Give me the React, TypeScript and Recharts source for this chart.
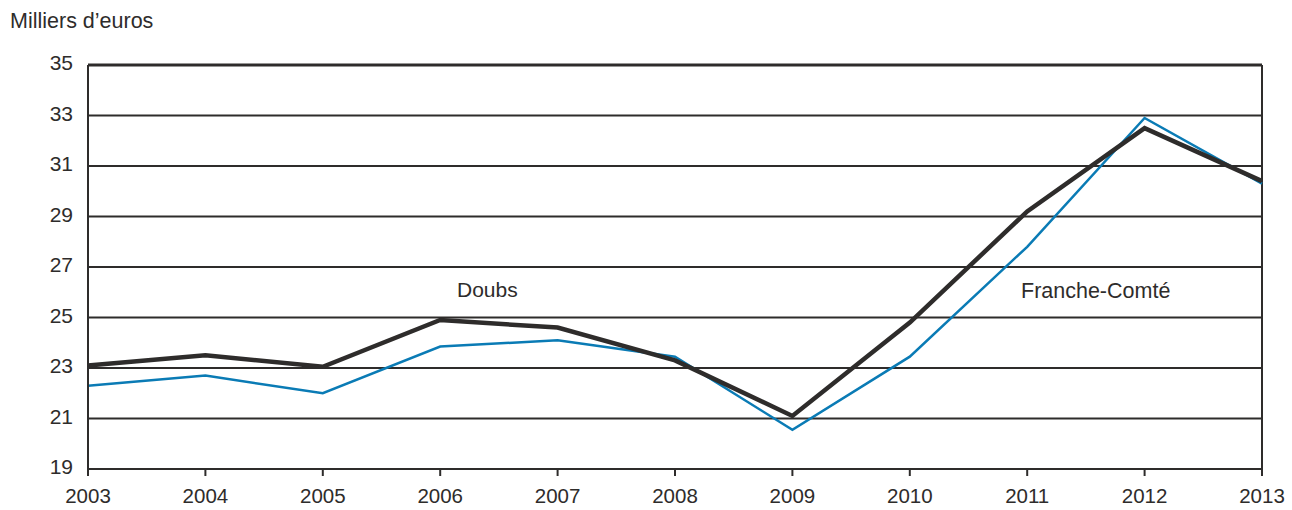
import React from 'react';
import {
  LineChart,
  Line,
  XAxis,
  YAxis,
  CartesianGrid,
  ReferenceLine,
} from 'recharts';

// Revenu disponible, milliers d'euros
const years = ['2003', '2004', '2005', '2006', '2007', '2008', '2009', '2010', '2011', '2012', '2013'];
const doubs = [23.1, 23.5, 23.05, 24.9, 24.6, 23.3, 21.1, 24.8, 29.2, 32.5, 30.4];
const francheComte = [22.3, 22.7, 22.0, 23.85, 24.1, 23.45, 20.55, 23.45, 27.8, 32.9, 30.3];
const yTicks = [19, 21, 23, 25, 27, 29, 31, 33, 35];

const data = years.map((year, i) => ({
  year,
  doubs: doubs[i],
  franche: francheComte[i],
}));

const INK = '#2e2c2b';
const BLUE = '#0a7bb5';
const FONT = 'Liberation Sans, Arial, sans-serif';

const App = () => {
  return (
    <div
      style={{
        position: 'absolute',
        left: 0,
        top: 0,
        width: 1292,
        height: 510,
        background: '#fff',
        fontFamily: FONT,
        lineHeight: 1,
      }}
    >
      <div style={{ position: 'absolute', left: 10, top: 11, fontSize: 21.5, color: INK }}>
        Milliers d’euros
      </div>
      <div style={{ position: 'absolute', left: 457, top: 279, fontSize: 21, color: INK }}>
        Doubs
      </div>
      <div style={{ position: 'absolute', left: 1021, top: 281, fontSize: 21.5, color: INK }}>
        Franche-Comté
      </div>
      <LineChart
        width={1292}
        height={510}
        data={data}
        margin={{ top: 65, right: 30, bottom: 0, left: 0 }}
      >
        <CartesianGrid vertical={false} stroke={INK} strokeWidth={2} />
        <XAxis
          dataKey="year"
          height={41}
          axisLine={{ stroke: INK, strokeWidth: 2 }}
          tickLine={{ stroke: INK, strokeWidth: 2 }}
          tickSize={7}
          tickMargin={12}
          interval={0}
          tick={{ fill: INK, fontSize: 20.5, fontFamily: FONT }}
        />
        <YAxis
          width={88}
          domain={[19, 35]}
          ticks={yTicks}
          allowDataOverflow
          axisLine={{ stroke: INK, strokeWidth: 2 }}
          tickLine={false}
          tickSize={0}
          tickMargin={15}
          tick={{ fill: INK, fontSize: 21, fontFamily: FONT, dy: -2 }}
        />
        <ReferenceLine y={35} stroke={INK} strokeWidth={3} />
        <ReferenceLine x="2013" stroke={INK} strokeWidth={2} />
        <Line
          dataKey="franche"
          stroke={BLUE}
          strokeWidth={2.5}
          dot={false}
          isAnimationActive={false}
        />
        <Line
          dataKey="doubs"
          stroke={INK}
          strokeWidth={4.5}
          dot={false}
          isAnimationActive={false}
        />
      </LineChart>
    </div>
  );
};

export default App;
